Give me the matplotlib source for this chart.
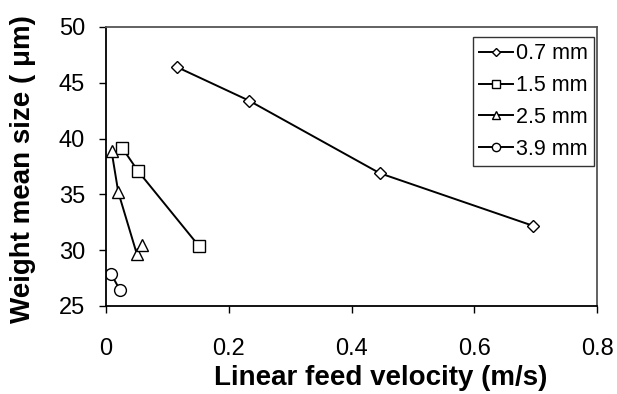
import matplotlib
matplotlib.use("Agg")
import matplotlib.pyplot as plt

# weight mean size vs linear feed velocity, per tube diameter
labels = ["0.7 mm", "1.5 mm", "2.5 mm", "3.9 mm"]
markers = ["D", "s", "^", "o"]
x_07 = [0.116, 0.233, 0.446, 0.695]
y_07 = [46.4, 43.4, 36.9, 32.2]
x_15 = [0.026, 0.052, 0.151]
y_15 = [39.2, 37.1, 30.4]
x_25 = [0.009, 0.020, 0.050, 0.059]
y_25 = [38.9, 35.2, 29.7, 30.5]
x_39 = [0.008, 0.023]
y_39 = [27.9, 26.4]

plt.rcParams["font.family"] = ["Liberation Sans", "DejaVu Sans"]

fig = plt.figure(figsize=(6.17, 3.94), dpi=100)
ax = fig.add_axes([0.1718, 0.2234, 0.7958, 0.7081])

series = [(x_07, y_07), (x_15, y_15), (x_25, y_25), (x_39, y_39)]
for (xs, ys), lab, m in zip(series, labels, markers):
    ms = 6.5 if m == "D" else 8.5
    ax.plot(xs, ys, color="black", lw=1.4, marker=m, ms=ms, mfc="white",
            mec="black", mew=1.0, label=lab)

ax.set_xlim(0, 0.8)
ax.set_ylim(25, 50)
ax.set_xticks([0, 0.2, 0.4, 0.6, 0.8])
ax.set_xticklabels(["0", "0.2", "0.4", "0.6", "0.8"])
ax.set_yticks([25, 30, 35, 40, 45, 50])
ax.tick_params(labelsize=17, direction="out", length=5, width=1)
ax.tick_params(axis="x", pad=18)
ax.tick_params(axis="y", pad=10)
ax.set_xlabel("Linear feed velocity (m/s)", fontsize=20, fontweight="bold")
ax.set_ylabel("Weight mean size ( \u03bcm)", fontsize=20, fontweight="bold")
ax.xaxis.set_label_coords(0.56, -0.21)
ax.yaxis.set_label_coords(-0.142, 0.49)
for s in ["left", "bottom"]:
    ax.spines[s].set_color("black")
    ax.spines[s].set_linewidth(1.3)
for s in ["top", "right"]:
    ax.spines[s].set_color("#555555")
    ax.spines[s].set_linewidth(1.3)

leg = ax.legend(loc="upper right", fontsize=15.5, frameon=True, fancybox=False,
                edgecolor="black", handlelength=1.55, handletextpad=0.15,
                borderpad=0.3, labelspacing=0.5, borderaxespad=0,
                markerscale=0.7, bbox_to_anchor=(0.994, 0.964))
leg.get_frame().set_linewidth(1.0)

fig.savefig("out.png", dpi=100, facecolor="white")
